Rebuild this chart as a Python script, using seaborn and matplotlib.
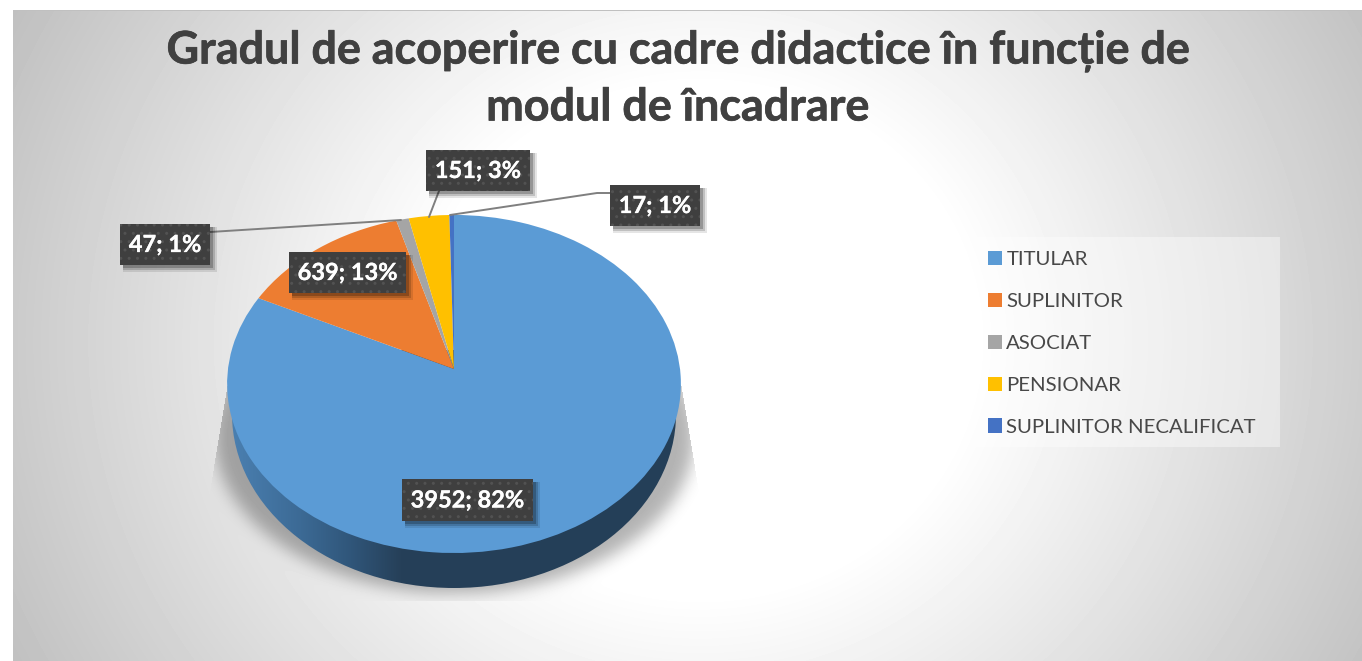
import numpy as np
import matplotlib
matplotlib.use("Agg")
import matplotlib.pyplot as plt
import matplotlib.patheffects as pe
import seaborn as sns
from matplotlib.patches import Ellipse, Rectangle
from matplotlib.path import Path as MplPath
from matplotlib.transforms import Transform

# Datos
categorias = ["TITULAR", "SUPLINITOR", "ASOCIAT", "PENSIONAR", "SUPLINITOR NECALIFICAT"]
valores = [3952, 639, 47, 151, 17]
porcentajes = [82, 13, 1, 3, 1]
colores = ["#5B9BD5", "#ED7D31", "#A5A5A5", "#FFC000", "#4472C4"]
titulo = "Gradul de acoperire cu cadre didactice în funcție de\nmodul de încadrare"

ANCHO, ALTO = 1362, 661

sns.set_theme(style="white")
plt.rcParams["font.family"] = ["Lato", "Open Sans", "DejaVu Sans"]


# Perspectiva de la tarta: circulo unidad -> pixeles
class Perspectiva(Transform):
    input_dims = 2
    output_dims = 2
    is_separable = False
    k = 0.0887
    a = 167.7
    b = 226.0

    def transform_non_affine(self, values):
        v = np.asarray(values)
        w = 1 + self.k * v[:, 1]
        return np.column_stack((454 + self.b * v[:, 0] / w, 369 - self.a * v[:, 1] / w))

    def transform_path_non_affine(self, path):
        return MplPath(self.transform_non_affine(path.vertices), path.codes)


def suavizar(img, sigma):
    r = int(sigma * 3)
    nucleo = np.exp(-0.5 * (np.arange(-r, r + 1) / sigma) ** 2)
    nucleo /= nucleo.sum()
    img = np.apply_along_axis(lambda f: np.convolve(f, nucleo, mode="same"), 0, img)
    return np.apply_along_axis(lambda f: np.convolve(f, nucleo, mode="same"), 1, img)


fig = plt.figure(figsize=(ANCHO / 100, ALTO / 100), dpi=100)
ax = fig.add_axes([0, 0, 1, 1])

# Fondo con degradado radial
yy, xx = np.mgrid[0:ALTO, 0:ANCHO]
dist = np.hypot(xx - 700, (yy - 340) * 1.08)
fondo = np.clip(255 - np.clip(dist - 275, 0, None) * 0.127, 0, 255) / 255

# Sombra bajo la tarta
mascara = (((xx - 454) / 240.0) ** 2 + ((yy - 435) / 158.0) ** 2 < 1).astype(float)
sombra = suavizar(mascara, 8) * 0.3
borde = np.abs(xx - 454) < 227 + (yy - 385) * 14 / 85
sombra[(yy > 600) | (yy < 385) | ~borde] = 0
fondo = fondo * (1 - sombra)

fondo[:, :13] = 1
fondo[:10, :] = 1
fondo[10:11, 13:] = 0.75
ax.imshow(fondo, cmap="gray", vmin=0, vmax=1, extent=(0, ANCHO, ALTO, 0), zorder=0, aspect="auto")

# Lateral de la tarta
tonos = np.array([[74, 127, 176], [60, 106, 149], [48, 86, 122], [38, 64, 89], [36, 63, 88]]) / 255
pos_x = [233, 300, 350, 400, 680]
filas = np.arange(225, 685)
rampa = np.column_stack([np.interp(filas, pos_x, tonos[:, i]) for i in range(3)])[None, :, :]
lateral = ax.imshow(rampa, extent=(225, 685, 600, 350), zorder=1, aspect="auto")
lateral.set_clip_path(Ellipse((454, 414), 444, 348, transform=ax.transData))

# Cara superior
cuñas, _ = ax.pie(valores, colors=colores, startangle=90, counterclock=False, radius=1,
                  wedgeprops={"linewidth": 0})
persp = Perspectiva() + ax.transData
for c in cuñas:
    c.set_transform(persp)
    c.set_zorder(2)
    c.set_clip_on(False)

ax.set_aspect("auto")
ax.set_xlim(0, ANCHO)
ax.set_ylim(ALTO, 0)
ax.axis("off")

# Titulo
ax.text(677.5, 79, titulo, ha="center", va="center", fontsize=32.3, fontweight="bold",
        color="#404040", linespacing=1.41, zorder=6,
        path_effects=[pe.withStroke(linewidth=0.5, foreground="#404040")])

# Lineas guia
for xs, ys in [([210, 401], [232, 220]), ([439, 429], [191, 217]), ([610, 597, 450], [193, 193, 215])]:
    ax.plot(xs, ys, color="#7f7f7f", lw=1.4, zorder=3)

# Etiquetas (x0, y0, x1, y1)
cajas = [(402, 479, 533, 521), (289, 252, 406, 293), (120, 224, 210, 265), (426, 150, 530, 191), (610, 185, 700, 226)]
for caja, v, p in zip(cajas, valores, porcentajes):
    x0, y0, x1, y1 = caja
    for d, al in [(7, 0.10), (5, 0.16), (3, 0.22)]:
        ax.add_patch(Rectangle((x0 + 3, y0 + 3), x1 - x0 + d - 3, y1 - y0 + d - 3, fc="black", ec="none", alpha=al, zorder=4))
    ax.add_patch(Rectangle((x0, y0), x1 - x0, y1 - y0, fc="#3F3F3F", ec="#525252", hatch="..", lw=0, zorder=5))
    ax.text((x0 + x1) / 2, (y0 + y1) / 2, f"{v}; {p}%", ha="center", va="center", color="white",
            fontsize=17, fontweight="bold", zorder=6,
            path_effects=[pe.withStroke(linewidth=0.2, foreground="white")])

# Leyenda
ax.add_patch(Rectangle((962, 237), 318, 210, fc="white", ec="none", alpha=0.4, zorder=3))
ley = ax.legend(cuñas, categorias, loc="upper left", bbox_to_anchor=(988, 251), bbox_transform=ax.transData,
                frameon=False, fontsize=14.7, handlelength=0.68, handleheight=0.68, handletextpad=0.22,
                labelspacing=1.21, borderaxespad=0, borderpad=0, labelcolor="#484848")
ley.set_zorder(6)

fig.savefig("out.png", dpi=100)
plt.close(fig)
